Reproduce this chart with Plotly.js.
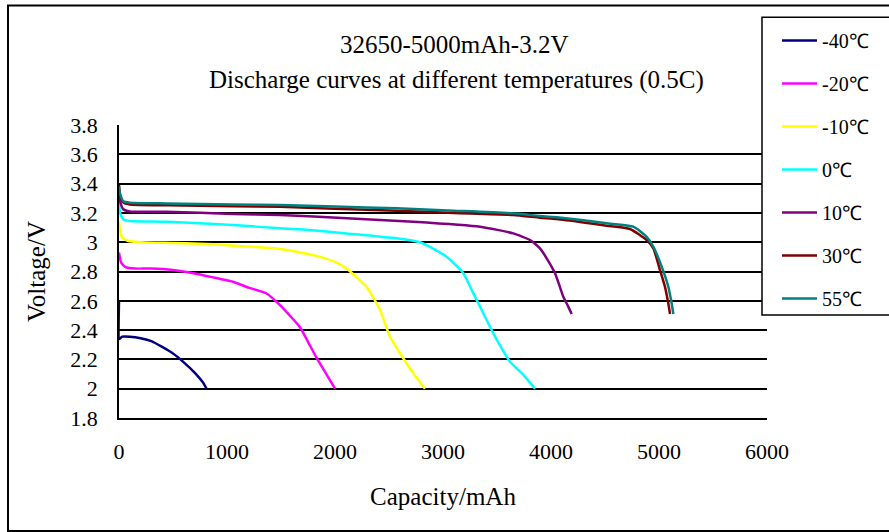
<!DOCTYPE html>
<html>
<head>
<meta charset="utf-8">
<script src="https://cdn.plot.ly/plotly-3.0.1.min.js"></script>
<style>html,body{margin:0;padding:0;background:#fff;}#chart{width:889px;height:532px;}</style>
</head>
<body>
<div id="chart"></div>
<script>
// Series names
const seriesNames = ["-40℃", "-20℃", "-10℃", "0℃", "10℃", "30℃", "55℃"];
const seriesColors = ["#000080", "#FF00FF", "#FFFF00", "#00FFFF", "#800080", "#800000", "#008080"];

// Capacity (mAh) and voltage (V)
const capM40 = [0, 0, 5, 30, 100, 200, 300, 400, 500, 600, 700, 780, 810];
const voltM40 = [2.6, 2.34, 2.34, 2.355, 2.355, 2.345, 2.325, 2.285, 2.24, 2.18, 2.11, 2.04, 2.0];

const capM20 = [0, 20, 60, 150, 300, 500, 750, 900, 1056, 1200, 1367, 1491, 1580, 1676, 1750, 1830, 1920, 2000];
const voltM20 = [2.93, 2.86, 2.83, 2.82, 2.82, 2.81, 2.78, 2.755, 2.73, 2.69, 2.65, 2.57, 2.5, 2.42, 2.32, 2.21, 2.1, 2.0];

const capM10 = [0, 10, 30, 80, 200, 500, 750, 1000, 1300, 1491, 1676, 1861, 2000, 2108, 2200, 2293, 2417, 2509, 2602, 2725, 2833];
const voltM10 = [3.14, 3.08, 3.03, 3.01, 3.0, 2.995, 2.99, 2.98, 2.965, 2.954, 2.93, 2.9, 2.865, 2.82, 2.76, 2.696, 2.537, 2.355, 2.242, 2.105, 2.0];

const cap0 = [0, 10, 40, 100, 441, 1056, 1491, 1676, 2108, 2571, 2787, 2900, 3034, 3188, 3281, 3373, 3466, 3540, 3620, 3744, 3852];
const volt0 = [3.28, 3.2, 3.155, 3.145, 3.14, 3.117, 3.095, 3.088, 3.06, 3.027, 3.0, 2.96, 2.9, 2.788, 2.651, 2.515, 2.378, 2.28, 2.184, 2.094, 2.0];

const cap10 = [0, 10, 40, 100, 441, 1056, 1491, 2108, 2725, 3343, 3651, 3806, 3898, 3960, 4037, 4080, 4114, 4160, 4191];
const volt10 = [3.35, 3.28, 3.225, 3.21, 3.208, 3.193, 3.186, 3.163, 3.14, 3.106, 3.06, 3.015, 2.958, 2.89, 2.788, 2.7, 2.628, 2.56, 2.51];

const cap30 = [0, 10, 40, 100, 441, 1056, 1491, 2000, 2571, 3100, 3651, 3898, 4052, 4300, 4515, 4731, 4886, 4948, 5009, 5055, 5086, 5102];
const volt30 = [3.39, 3.32, 3.27, 3.258, 3.252, 3.245, 3.242, 3.228, 3.215, 3.2, 3.186, 3.167, 3.158, 3.135, 3.113, 3.09, 3.015, 2.958, 2.81, 2.696, 2.583, 2.51];

const cap55 = [0, 10, 40, 100, 441, 1056, 1491, 2000, 2571, 3100, 3651, 3898, 4052, 4300, 4515, 4762, 4886, 4948, 5025, 5086, 5117, 5133];
const volt55 = [3.38, 3.33, 3.28, 3.27, 3.265, 3.258, 3.254, 3.243, 3.231, 3.215, 3.197, 3.179, 3.17, 3.15, 3.129, 3.106, 3.037, 2.969, 2.833, 2.696, 2.583, 2.51];

// Axis ticks
const xTicks = [0, 1000, 2000, 3000, 4000, 5000, 6000];
const yTicks = [1.8, 2, 2.2, 2.4, 2.6, 2.8, 3, 3.2, 3.4, 3.6, 3.8];
const yTickText = ["1.8", "2", "2.2", "2.4", "2.6", "2.8", "3", "3.2", "3.4", "3.6", "3.8"];

const titleLine1 = "32650-5000mAh-3.2V";
const titleLine2 = "Discharge curves at different temperatures (0.5C)";

const allCaps = [capM40, capM20, capM10, cap0, cap10, cap30, cap55];
const allVolts = [voltM40, voltM20, voltM10, volt0, volt10, volt30, volt55];

const FONT = "Liberation Serif";

const traces = seriesNames.map((name, i) => ({
  type: "scatter",
  mode: "lines",
  name: name,
  legendgroup: "g" + i,
  x: allCaps[i],
  y: allVolts[i],
  line: {color: seriesColors[i], width: 2.5, shape: "spline", smoothing: 0.5},
  hoverinfo: "x+y+name"
}));

const L = 119, R = 767, T = 125, B = 418;
const W = R - L, H = B - T;
const px = (x) => (x - L) / W;
const py = (y) => (B - y) / H;

const layout = {
  width: 889,
  height: 532,
  margin: {l: L, r: 889 - R, t: T, b: 532 - B, pad: 0},
  paper_bgcolor: "#ffffff",
  plot_bgcolor: "#ffffff",
  font: {family: FONT, color: "#000000", size: 22},
  showlegend: true,
  legend: {
    x: px(777), y: py(21), xanchor: "left", yanchor: "top",
    borderwidth: 0, bgcolor: "rgba(0,0,0,0)",
    font: {family: FONT, size: 20, color: "#000000"},
    tracegroupgap: 14,
    traceorder: "grouped",
    itemwidth: 35,
    maxheight: 500
  },
  xaxis: {
    range: [0, 6000],
    tickvals: xTicks,
    ticktext: xTicks.map(String),
    showgrid: false,
    zeroline: false,
    showline: true, linecolor: "#000000", linewidth: 1.5,
    ticks: "", ticklabelstandoff: 13,
    tickfont: {family: FONT, size: 22, color: "#000000"},
    title: {text: "Capacity/mAh", font: {family: FONT, size: 25, color: "#000000"}, standoff: 24}
  },
  yaxis: {
    range: [1.8, 3.8],
    tickvals: yTicks,
    ticktext: yTickText,
    showgrid: true, gridcolor: "#000000", gridwidth: 1.5,
    zeroline: false,
    showline: true, linecolor: "#000000", linewidth: 1.5,
    ticks: "", ticklabelstandoff: 15,
    tickfont: {family: FONT, size: 22, color: "#000000"},
    title: {text: "Voltage/V", font: {family: FONT, size: 25, color: "#000000"}, standoff: 18}
  },
  annotations: [
    {text: titleLine1, xref: "paper", yref: "paper", x: px(454), y: py(44), xanchor: "center", yanchor: "middle", showarrow: false, font: {family: FONT, size: 25, color: "#000000"}},
    {text: titleLine2, xref: "paper", yref: "paper", x: px(456), y: py(80), xanchor: "center", yanchor: "middle", showarrow: false, font: {family: FONT, size: 25, color: "#000000"}}
  ],
  shapes: [
    {type: "rect", xref: "paper", yref: "paper", x0: px(8), x1: px(900), y0: py(531), y1: py(5.5), line: {color: "#000000", width: 2}, layer: "below"},
    {type: "rect", xref: "paper", yref: "paper", x0: px(762), x1: px(900), y0: py(315), y1: py(17.3), line: {color: "#000000", width: 1.5}, fillcolor: "#ffffff", layer: "above"}
  ]
};

Plotly.newPlot("chart", traces, layout, {displayModeBar: false, staticPlot: false});
</script>
</body>
</html>
